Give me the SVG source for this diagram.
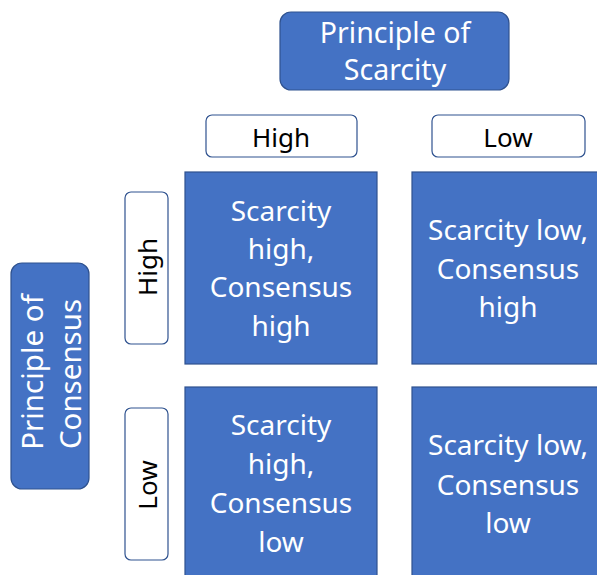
<svg xmlns="http://www.w3.org/2000/svg" width="597" height="575" viewBox="0 0 597 575">
<style>
.blue{fill:#4472C4;stroke:#2F528F;stroke-width:1.2}
.lab{fill:#fff;stroke:#2F528F;stroke-width:1.2}
.wt{fill:#fff;font-family:"Noto Sans","Open Sans",sans-serif;font-size:28px;text-anchor:middle}
.ht{fill:#fff;font-family:"Noto Sans","Open Sans",sans-serif;font-size:28.5px;text-anchor:middle}
.bt{fill:#000;font-family:"Noto Sans","Open Sans",sans-serif;font-size:26px;text-anchor:middle}
</style>
<rect width="597" height="575" fill="#fff"/>
<g id="scarcity">
<rect class="blue" x="280" y="12" width="229" height="78" rx="11"/>
<text class="ht" x="395" y="43">Principle of</text>
<text class="ht" x="395" y="80">Scarcity</text>
</g>
<g id="col-high">
<rect class="lab" x="206" y="115" width="151" height="42" rx="6"/>
<text class="bt" x="281" y="147">High</text>
</g>
<g id="col-low">
<rect class="lab" x="432" y="115" width="153" height="42" rx="6"/>
<text class="bt" x="508" y="147">Low</text>
</g>
<g id="consensus">
<rect class="blue" x="11" y="263" width="78" height="226" rx="11"/>
<text class="ht" style="font-size:29.5px" transform="translate(43,372) rotate(-90)">Principle of</text>
<text class="ht" style="font-size:29.5px" transform="translate(81,374) rotate(-90)">Consensus</text>
</g>
<g id="row-high">
<rect class="lab" x="125" y="192" width="43" height="152" rx="6"/>
<text class="bt" transform="translate(157,267) rotate(-90)">High</text>
</g>
<g id="row-low">
<rect class="lab" x="125" y="408" width="43" height="152" rx="6"/>
<text class="bt" transform="translate(157,485) rotate(-90)">Low</text>
</g>
<g id="cell-hh">
<rect class="blue" x="185" y="172" width="192" height="192"/>
<text class="wt" x="281" y="221">Scarcity</text>
<text class="wt" x="281" y="259">high,</text>
<text class="wt" x="281" y="297">Consensus</text>
<text class="wt" x="281" y="336">high</text>
</g>
<g id="cell-lh">
<rect class="blue" x="412" y="172" width="192" height="192"/>
<text class="wt" x="508" y="240">Scarcity low,</text>
<text class="wt" x="508" y="279">Consensus</text>
<text class="wt" x="508" y="317">high</text>
</g>
<g id="cell-hl">
<rect class="blue" x="185" y="387" width="192" height="192"/>
<text class="wt" x="281" y="435">Scarcity</text>
<text class="wt" x="281" y="474">high,</text>
<text class="wt" x="281" y="513">Consensus</text>
<text class="wt" x="281" y="552">low</text>
</g>
<g id="cell-ll">
<rect class="blue" x="412" y="387" width="192" height="192"/>
<text class="wt" x="508" y="455">Scarcity low,</text>
<text class="wt" x="508" y="495">Consensus</text>
<text class="wt" x="508" y="533">low</text>
</g>
<g id="connectors"></g>
</svg>
